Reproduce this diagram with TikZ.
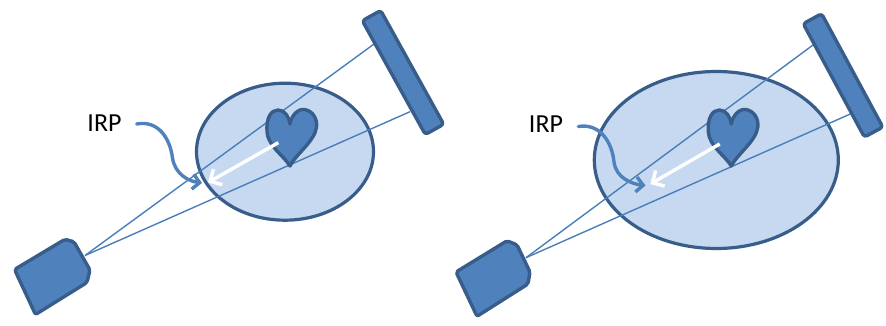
\documentclass[tikz,border=0pt]{standalone}
\usepackage{fontspec}
\setmainfont{Carlito}
\usetikzlibrary{arrows.meta}
\definecolor{shapefill}{HTML}{4F81BD}
\definecolor{shapeline}{HTML}{385D8A}
\definecolor{bodyfill}{HTML}{C6D9F1}
\definecolor{raycol}{HTML}{4A7EBB}
\tikzset{
  solid shape/.style={fill=shapefill, draw=shapeline, line width=3.4pt, line join=round, rounded corners=2pt},
  body/.style={fill=bodyfill, draw=shapeline, line width=3.2pt},
  ray/.style={draw=raycol, line width=1.4pt},
  dirarrow/.style={draw=white, line width=3.4pt, -{Straight Barb[length=9pt,width=18pt,line width=3.4pt]}},
  irparrow/.style={draw=shapefill, line width=3.4pt, line cap=round, -{Straight Barb[length=7pt,width=15pt,line width=3.4pt]}},
  irplabel/.style={font=\fontsize{26}{30}\selectfont, inner sep=0pt},
  heart/.pic={
    \draw[solid shape, rounded corners=0pt]
      (0,42) .. controls (-6,32) and (-22,22) .. (-23,8)
      .. controls (-24,-6) and (-19,-14) .. (-12,-14)
      .. controls (-5,-14) and (-1,-7) .. (0,0)
      .. controls (1,-7) and (7,-15.5) .. (14.5,-14.5)
      .. controls (23,-13) and (27.5,-5) .. (26.5,3)
      .. controls (25,17) and (6,30) .. (0,42) -- cycle;
  }
}
\begin{document}
\begin{tikzpicture}[x=1pt,y=-1pt]
\useasboundingbox (0,0) rectangle (886,326);

% ---------------- left panel ----------------
\draw[body] (285,151.7) ellipse [x radius=88.5, y radius=68.5];
\coordinate (Ls) at (85,255.5);
\coordinate (Ld1) at (375,43.3);
\coordinate (Ld2) at (410,111.7);
\draw[ray] (Ls) -- (Ld1);
\draw[ray] (Ls) -- (Ld2);
\pic at (290,124) {heart};
\coordinate (Lh) at (278.3,142.7);
\coordinate (Li) at (208,182.5);
\draw[dirarrow] (Lh) -- (Li);
\draw[solid shape] (14.5,269.5) -- (65,239.3) -- (74,241.8) -- (90,270) -- (87,282.5) -- (35.5,314.5) -- cycle;
\draw[solid shape, rounded corners=3pt] (362.3,20.7) -- (380.7,10.5) -- (443.7,124.3) -- (425.3,134.5) -- cycle;
\node[irplabel] (Lirp) at (104.5,122.8) {IRP};
\coordinate (La) at (136.7,124);
\coordinate (Lb) at (202,183);
\draw[irparrow] (La) .. controls (158,120) and (170,138) .. (172.5,158)
  .. controls (175,174) and (188,181) .. (Lb);

% ---------------- right panel ----------------
\draw[body] (716.3,160) ellipse [x radius=122, y radius=88.5];
\coordinate (Rs) at (526,257.7);
\coordinate (Rd1) at (813,45);
\coordinate (Rd2) at (850.3,114);
\draw[ray] (Rs) -- (Rd1);
\draw[ray] (Rs) -- (Rd2);
\pic at (731.3,124) {heart};
\coordinate (Rh) at (719.7,144);
\coordinate (Ri) at (650.3,184);
\draw[dirarrow] (Rh) -- (Ri);
\draw[solid shape] (456,272) -- (507,240.8) -- (517,244.8) -- (530,272) -- (528,284) -- (477,316.3) -- cycle;
\draw[solid shape, rounded corners=3pt] (803.2,23.7) -- (821.6,13.7) -- (882.8,127.1) -- (864.4,137.1) -- cycle;
\node[irplabel] (Rirp) at (546,124.2) {IRP};
\coordinate (Ra) at (578.3,126.5);
\coordinate (Rb) at (645.5,185.5);
\draw[irparrow] (Ra) .. controls (600,123) and (612,142) .. (614,162)
  .. controls (616,178) and (632,184) .. (Rb);
\end{tikzpicture}
\end{document}
